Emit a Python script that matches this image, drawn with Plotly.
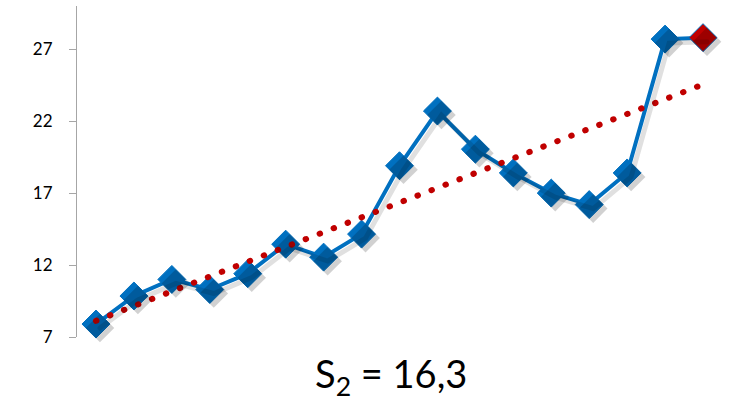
import numpy as np
import plotly.graph_objects as go

# data
periods = list(range(1, 18))
values = [7.9, 9.85, 11.0, 10.3, 11.4, 13.45, 12.55, 14.15, 18.9, 22.7,
          20.05, 18.4, 17.0, 16.2, 18.4, 27.7, 27.8]
y_ticks = [7, 12, 17, 22, 27]
title_text = "S<sub>2</sub> = 16,3"

BLUE = "#0070C0"
RED = "#C00000"

# linear trend from the data
coef = np.polyfit(periods, values, 1)
trend_x = [periods[0], periods[-1]]
trend_y = list(np.polyval(coef, trend_x))

marker_colors = [BLUE] * (len(values) - 1) + [RED]

fig = go.Figure()

# shadow (drawn on offset overlay axes)
fig.add_trace(go.Scatter(
    x=periods, y=values, mode="lines+markers", xaxis="x2", yaxis="y2",
    line=dict(color="rgba(0,0,0,0.12)", width=5),
    marker=dict(symbol="diamond", size=22, color="rgba(0,0,0,0.18)", line=dict(width=0)),
    cliponaxis=False, hoverinfo="skip", showlegend=False))

fig.add_trace(go.Scatter(
    x=periods, y=values, mode="lines+markers",
    line=dict(color=BLUE, width=4),
    marker=dict(symbol="diamond", size=21.5, color=marker_colors,
                line=dict(color=BLUE, width=1)),
    cliponaxis=False, showlegend=False))

fig.add_trace(go.Scatter(
    x=trend_x, y=trend_y, mode="lines",
    line=dict(color=RED, width=6, dash="0.5px,14.5px"),
    cliponaxis=False, showlegend=False))

dx = 4 * 17 / 645
dy = 4 * 23 / 331

fig.update_layout(
    width=733, height=405,
    margin=dict(l=77, r=11, t=6, b=68),
    paper_bgcolor="white", plot_bgcolor="white",
    font=dict(family="Lato, 'Open Sans', sans-serif", color="#000000"),
    xaxis=dict(range=[0.5, 17.5], visible=False, fixedrange=True),
    yaxis=dict(range=[7, 30], tickvals=y_ticks, ticks="outside", ticklen=7,
               tickcolor="#A6A6A6", showline=True, linecolor="#A6A6A6",
               linewidth=1, showgrid=False, zeroline=False,
               tickfont=dict(size=17, family="Lato, 'Open Sans', sans-serif", color="#000000"),
               ticklabelstandoff=13),
    xaxis2=dict(range=[0.5 - dx, 17.5 - dx], overlaying="x", visible=False),
    yaxis2=dict(range=[7 + dy, 30 + dy], overlaying="y", visible=False),
    annotations=[dict(text=title_text,
                      x=(391 - 77) / 645, y=-(376 - 337) / 331,
                      xref="paper", yref="paper", xanchor="center", yanchor="middle",
                      showarrow=False, font=dict(size=38, color="#000000"))],
)

post = """
document.body.style.margin = '0';
document.body.style.padding = '0';
var fix = function(){
  var paths = document.querySelectorAll('.scatterlayer .trace:last-child path.js-line');
  paths.forEach(function(p){ p.style.strokeLinecap = 'round'; });
};
fix();
var gd = document.getElementsByClassName('plotly-graph-div')[0];
if (gd && gd.on) { gd.on('plotly_afterplot', fix); }
"""
fig.write_html("out.html", post_script=post, config={"displayModeBar": False})
